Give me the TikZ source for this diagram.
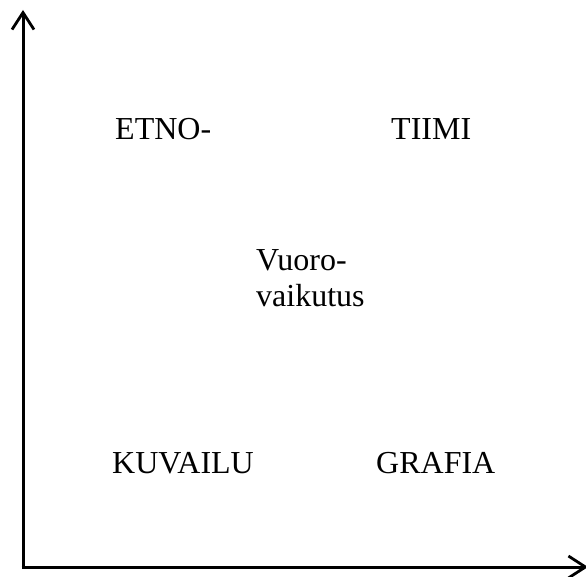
\documentclass[tikz,border=0pt]{standalone}
\usepackage{fontspec}
\setmainfont{Liberation Serif}
\usepackage{tikz}
\usetikzlibrary{arrows.meta, positioning}
\tikzset{
	axisline/.style={line width=3pt, -{Straight Barb[length=17pt, width=22pt, line width=2.8pt]}},
	word/.style={anchor=base west, inner sep=0pt, font=\fontsize{32}{36}\selectfont},
}

\begin{document}
\begin{tikzpicture}[x=1pt, y=1pt]
	\useasboundingbox (0,0) rectangle (586,576);

	% Axes
	\coordinate (orig) at (23,9);
	\coordinate (ytip) at (23,566);
	\coordinate (xtip) at (588,9);
	\draw[axisline] (orig) -- (ytip);
	\draw[axisline] ([xshift=-1.5pt]orig) -- (xtip);

	% Upper words
	\node[word] (etno) at (115,436) {ETNO-};
	\node[word] (tiimi) at (391,436) {TIIMI};

	% Middle
	\node[word] (vuoro) at (256,305) {Vuoro-};
	\node[word] (vaik) at (256,269) {vaikutus};

	% Lower words
	\node[word] (kuvailu) at (112,103) {KUVAILU};
	\node[word] (grafia) at (376,103) {GRAFIA};
\end{tikzpicture}
\end{document}
